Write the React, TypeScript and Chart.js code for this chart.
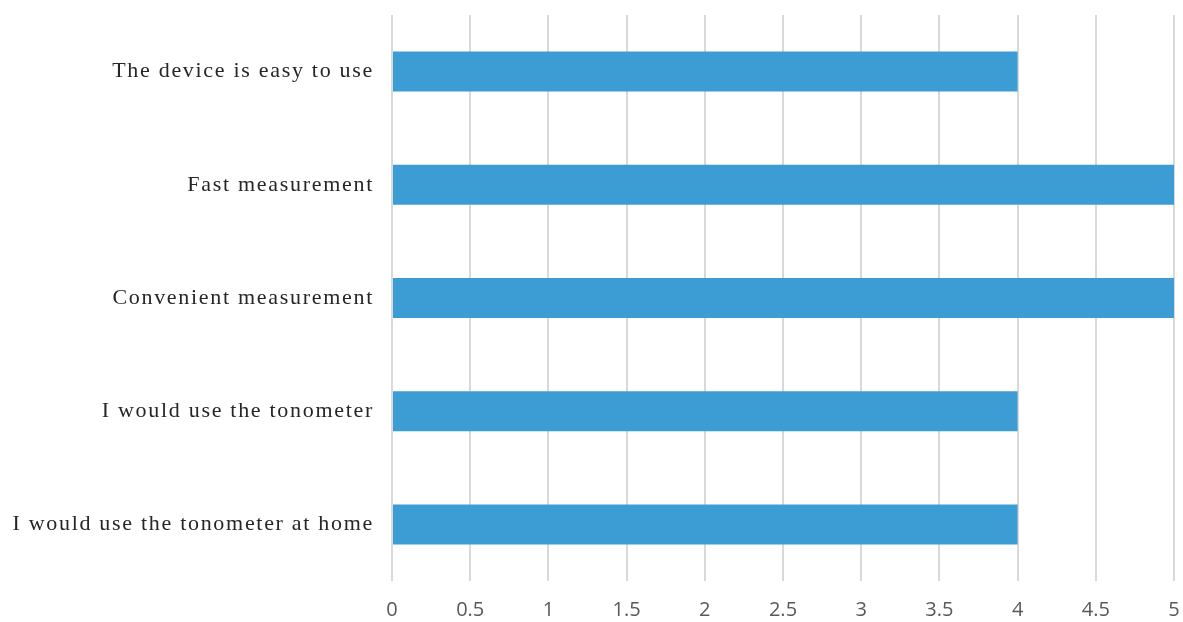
import React, { useEffect, useRef } from "react";
import { Chart, registerables } from "chart.js";

Chart.register(...registerables);

const categories = [
  "The device is easy to use",
  "Fast measurement",
  "Convenient measurement",
  "I would use the tonometer",
  "I would use the tonometer at home",
];
const values = [4, 5, 5, 4, 4];
const xMin = 0;
const xMax = 5;
const xStep = 0.5;

const spacingPlugin = {
  id: "ySpacing",
  afterLayout(chart: any) {
    const y = chart.scales.y;
    if (y && !y.__patched) {
      const orig = y.drawLabels.bind(y);
      y.drawLabels = (area: any) => {
        const ctx = chart.ctx;
        ctx.save();
        (ctx as any).letterSpacing = "1.7px";
        orig(area);
        ctx.restore();
      };
      y.__patched = true;
    }
  },
};

export default function App() {
  const ref = useRef<HTMLCanvasElement | null>(null);
  useEffect(() => {
    if (!ref.current) return;
    const chart = new Chart(ref.current, {
      type: "bar",
      data: {
        labels: categories,
        datasets: [
          {
            data: values,
            backgroundColor: "#3C9CD4",
            borderWidth: 0,
            categoryPercentage: 1,
            barPercentage: 0.353,
          },
        ],
      },
      plugins: [spacingPlugin],
      options: {
        indexAxis: "y",
        animation: false,
        responsive: false,
        maintainAspectRatio: false,
        layout: { padding: { top: 15, right: 9, left: 0, bottom: 0 } },
        plugins: { legend: { display: false }, tooltip: { enabled: false } },
        scales: {
          x: {
            min: xMin,
            max: xMax,
            ticks: {
              stepSize: xStep,
              color: "#595959",
              padding: 17,
              font: { family: "'Open Sans'", size: 20 },
              callback: (v: any) => String(Number(v)),
            },
            grid: { color: "#D9D9D9", lineWidth: 2, drawTicks: false },
            border: { display: false },
            afterFit: (s: any) => {
              s.height = 41;
              s.paddingLeft = 0;
              s.paddingRight = 0;
            },
          },
          y: {
            ticks: {
              color: "#262626",
              padding: 18,
              font: { family: "'Liberation Serif'", size: 22 },
            },
            grid: { display: false, drawTicks: false },
            border: { display: false },
            afterFit: (s: any) => {
              s.width = 392;
              s.paddingTop = 0;
              s.paddingBottom = 0;
            },
          },
        },
      },
    });
    return () => chart.destroy();
  }, []);
  return (
    <div style={{ position: "fixed", left: 0, top: 0, width: 1183, height: 622, background: "#fff" }}>
      <canvas ref={ref} width={1183} height={622} style={{ display: "block" }} />
    </div>
  );
}
